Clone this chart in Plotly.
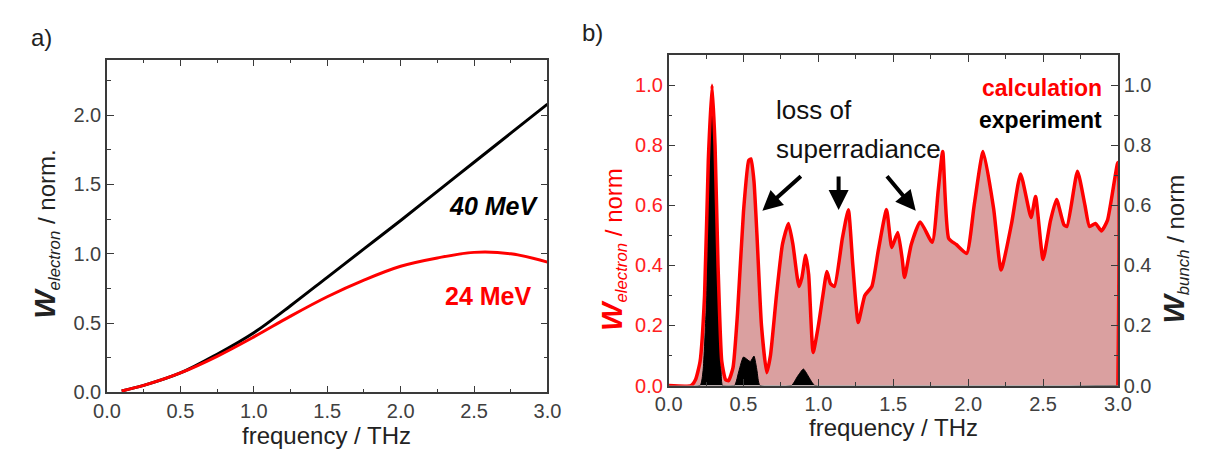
import plotly.graph_objects as go

# ---------------- Panel a data ----------------
freq_a = [0.1, 0.25, 0.5, 0.75, 1.0, 1.25, 1.5, 1.75, 2.0, 2.25, 2.5, 2.75, 3.0]
w_40mev = [0.01, 0.05, 0.14, 0.275, 0.43, 0.625, 0.83, 1.035, 1.24, 1.45, 1.66, 1.87, 2.08]
w_24mev = [0.01, 0.05, 0.14, 0.26, 0.40, 0.55, 0.69, 0.81, 0.91, 0.97, 1.01, 1.00, 0.94]

# ---------------- Panel b data ----------------
freq_calc = [0.0, 0.15, 0.18, 0.21, 0.24, 0.265, 0.29, 0.31, 0.33, 0.355, 0.38, 0.40,
             0.43, 0.46, 0.50, 0.535, 0.55, 0.57, 0.59, 0.62, 0.655, 0.68, 0.72, 0.76,
             0.80, 0.83, 0.87, 0.89, 0.915, 0.935, 0.965, 1.0, 1.03, 1.057, 1.08, 1.107,
             1.16, 1.20, 1.23, 1.266, 1.31, 1.357, 1.40, 1.455, 1.49, 1.53, 1.56, 1.575,
             1.62, 1.68, 1.76, 1.80, 1.83, 1.87, 1.92, 1.99, 2.04, 2.10, 2.17, 2.22,
             2.29, 2.35, 2.42, 2.45, 2.50, 2.55, 2.59, 2.64, 2.66, 2.73, 2.78, 2.81,
             2.85, 2.89, 2.93, 3.0]
w_calc = [0.0, 0.0, 0.02, 0.08, 0.30, 0.75, 1.0, 0.80, 0.40, 0.08, 0.02, 0.016,
          0.06, 0.24, 0.58, 0.75, 0.755, 0.68, 0.50, 0.20, 0.043, 0.10, 0.30, 0.47,
          0.54, 0.47, 0.33, 0.36, 0.434, 0.37, 0.11, 0.20, 0.30, 0.38, 0.34, 0.33,
          0.49, 0.586, 0.40, 0.21, 0.30, 0.33, 0.45, 0.586, 0.46, 0.51, 0.42, 0.36,
          0.47, 0.545, 0.477, 0.65, 0.78, 0.49, 0.47, 0.44, 0.60, 0.78, 0.59, 0.385,
          0.54, 0.705, 0.56, 0.63, 0.42, 0.55, 0.62, 0.535, 0.53, 0.714, 0.60, 0.53,
          0.54, 0.515, 0.55, 0.743]

freq_exp = [0.0, 0.21, 0.23, 0.25, 0.26, 0.28, 0.29, 0.30, 0.32, 0.33, 0.35, 0.36,
            0.44, 0.47, 0.50, 0.545, 0.57, 0.59, 0.61, 0.82, 0.86, 0.90, 0.94, 0.976, 3.0]
w_exp = [0.0, 0.0, 0.05, 0.25, 0.50, 0.90, 1.0, 0.90, 0.50, 0.30, 0.05, 0.0,
         0.0, 0.05, 0.095, 0.08, 0.098, 0.05, 0.0, 0.0, 0.03, 0.055, 0.025, 0.0, 0.0]

FONT = "Liberation Sans, Arial, sans-serif"
AX = "#3a3a3a"
TICK_FONT = dict(family=FONT, size=20, color="#404040")
RED = "#ff0000"

fig = go.Figure()

# Panel a
fig.add_trace(go.Scatter(x=freq_a, y=w_40mev, mode="lines", line=dict(color="black", width=3, shape="spline"),
                         xaxis="x", yaxis="y", showlegend=False))
fig.add_trace(go.Scatter(x=freq_a, y=w_24mev, mode="lines", line=dict(color=RED, width=3, shape="spline"),
                         xaxis="x", yaxis="y", showlegend=False))

# Panel b
fig.add_trace(go.Scatter(x=freq_calc, y=w_calc, mode="lines", fill="tozeroy", fillcolor="rgb(218,160,160)",
                         line=dict(width=0, color="rgba(0,0,0,0)", shape="spline", smoothing=0.5),
                         xaxis="x2", yaxis="y3", showlegend=False))
fig.add_trace(go.Scatter(x=freq_exp, y=w_exp, mode="lines", fill="tozeroy", fillcolor="black",
                         line=dict(width=1, color="black", shape="spline", smoothing=0.5),
                         xaxis="x2", yaxis="y4", showlegend=False))
# red outline, closed down to zero at the right edge like the filled area
fig.add_trace(go.Scatter(x=freq_calc + [freq_calc[-1]], y=w_calc + [0.0], mode="lines",
                         line=dict(width=3.5, color=RED, shape="spline", smoothing=0.5),
                         xaxis="x2", yaxis="y4", showlegend=False))

W = 1205
H = 450


def px_x(p):
    return p / W


def px_y(p):
    return 1 - p / H


def xax(domain, anchor):
    return dict(domain=domain, anchor=anchor, range=[0, 3.0], dtick=0.5, tickformat=".1f",
                showline=True, linecolor=AX, linewidth=1.5, mirror="ticks",
                ticks="inside", ticklen=7, tickwidth=1.3, tickcolor=AX,
                minor=dict(ticks="inside", dtick=0.25, ticklen=4, tickcolor=AX, tickwidth=1.2),
                showgrid=False, zeroline=False, tickfont=TICK_FONT)


fig.update_layout(
    width=W, height=H,
    margin=dict(l=0, r=0, t=0, b=0),
    paper_bgcolor="white", plot_bgcolor="rgba(0,0,0,0)",
    font=dict(family=FONT),
    xaxis=xax([px_x(87), px_x(538)], "y"),
    yaxis=dict(domain=[px_y(394), px_y(53)], anchor="x", range=[0, 2.4], dtick=0.5, tickformat=".1f",
               showline=True, linecolor=AX, linewidth=1.5, mirror="ticks",
               ticks="inside", ticklen=7, tickwidth=1.3, tickcolor=AX,
               minor=dict(ticks="inside", dtick=0.25, ticklen=4, tickcolor=AX, tickwidth=1.2),
               showgrid=False, zeroline=False, tickfont=TICK_FONT),
    xaxis2=xax([px_x(662), px_x(1122)], "y3"),
    yaxis3=dict(domain=[px_y(387), px_y(48.5)], anchor="x2", range=[0, 1.1], dtick=0.2, tickformat=".1f",
                showline=True, linecolor=AX, linewidth=1.5,
                ticks="inside", ticklen=7, tickwidth=1.3, tickcolor=AX,
                minor=dict(ticks="inside", dtick=0.1, ticklen=4, tickcolor=AX, tickwidth=1.2),
                showgrid=False, zeroline=False, tickfont=dict(family=FONT, size=20, color="#ff2020")),
    yaxis4=dict(overlaying="y3", anchor="x2", side="right", range=[0, 1.1], dtick=0.2, tickformat=".1f",
                showline=True, linecolor=AX, linewidth=1.5,
                ticks="inside", ticklen=7, tickwidth=1.3, tickcolor=AX,
                minor=dict(ticks="inside", dtick=0.1, ticklen=4, tickcolor=AX, tickwidth=1.2),
                showgrid=False, zeroline=False, tickfont=TICK_FONT),
)

ann = []


def paper_text(text, x, y, size, color="#222", angle=0, xanchor="center"):
    ann.append(dict(text=text, x=px_x(x), y=px_y(y), xref="paper", yref="paper", showarrow=False,
                    xanchor=xanchor, yanchor="middle", textangle=angle,
                    font=dict(family=FONT, size=size, color=color)))


paper_text("a)", 20, 30, 24)
paper_text("b)", 584, 25, 24)

# axis titles
paper_text("frequency / THz", 312, 438, 24)
paper_text("frequency / THz", 892, 430, 24)
paper_text("<b><i><span style='font-size:30px'>W</span></i></b><sub><i>electron</i></sub> / norm.",
           25, 232, 24, angle=-90)
paper_text("<b><i><span style='font-size:30px'>W</span></i></b><sub><i>electron</i></sub> / norm",
           605, 247, 24, color=RED, angle=-90)
paper_text("<b><i><span style='font-size:30px'>W</span></i></b><sub><i>bunch</i></sub> / norm",
           1180, 247, 24, angle=-90)

# panel a labels
paper_text("<b><i>40 MeV</i></b>", 483, 203, 25, color="black")
paper_text("<b>24 MeV</b>", 477, 295, 25, color=RED)

# panel b labels
paper_text("<b>calculation</b>", 1108, 82, 23, color=RED, xanchor="right")
paper_text("<b>experiment</b>", 1108, 115, 23, color="black", xanchor="right")
paper_text("loss of", 770, 105, 26, color="#111", xanchor="left")
paper_text("superradiance", 770, 145, 26, color="#111", xanchor="left")

# arrows
for hx, hy, ax_, ay_ in [(0.626, 0.582, 40, -36), (1.135, 0.585, 0, -35), (1.65, 0.582, -30, -36)]:
    ann.append(dict(x=hx, y=hy, xref="x2", yref="y4", ax=ax_, ay=ay_, axref="pixel", ayref="pixel",
                    showarrow=True, arrowhead=2, arrowsize=1, arrowwidth=4, arrowcolor="black", text=""))

fig.update_layout(annotations=ann)

fig.write_html("out.html")
